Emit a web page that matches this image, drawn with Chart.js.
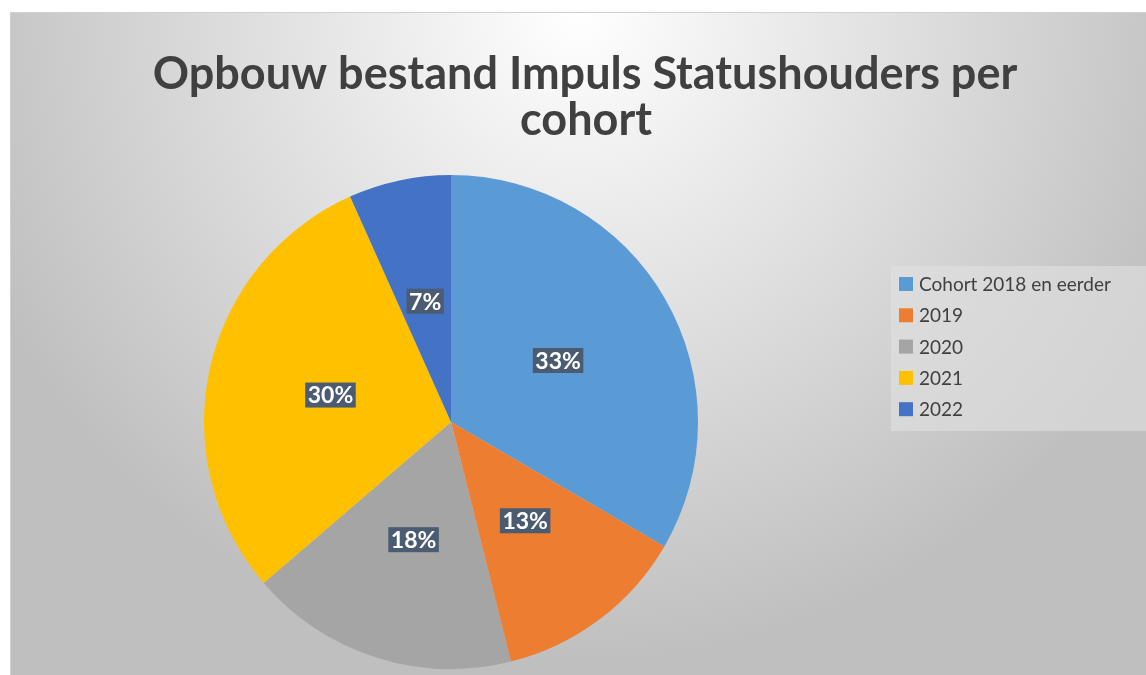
<!DOCTYPE html>
<html>
<head>
<meta charset="utf-8">
<script src="https://cdn.jsdelivr.net/npm/chart.js@4"></script>
<style>
  html, body { margin: 0; padding: 0; background: #fff; }
  #wrap {
    position: absolute; left: 10px; top: 12px;
    width: 1135px; height: 663px;
    border-left: 1px solid #d0d0d0; border-top: 1px solid #d0d0d0;
    background: radial-gradient(circle 650px at 50% 0, #ffffff 0%, #bfbfbf 100%);
  }
  canvas { display: block; }
</style>
</head>
<body>
<div id="wrap"><canvas id="pie" width="1135" height="663"></canvas></div>
<script>
const titleLines = ['Opbouw bestand Impuls Statushouders per', 'cohort'];
const cohorts = ['Cohort 2018 en eerder', '2019', '2020', '2021', '2022'];
const shares = [33.4, 12.7, 17.6, 29.6, 6.7]; // aandeel in %
const colors = ['#5B9BD5', '#ED7D31', '#A5A5A5', '#FFC000', '#4472C4'];

// titel, legenda en labels zelf tekenen
const extras = {
    id: 'extras',
    afterDraw(chart) {
        const ctx = chart.ctx;
        ctx.save();

        // titel
        ctx.fillStyle = '#404040';
        ctx.font = 'bold 45px Lato';
        ctx.textAlign = 'center';
        ctx.textBaseline = 'middle';
        ctx.fillText(titleLines[0], 574, 61);
        ctx.fillText(titleLines[1], 575, 107);

        // percentages
        const meta = chart.getDatasetMeta(0);
        ctx.font = 'bold 23px Lato';
        meta.data.forEach((arc, i) => {
            const p = arc.getCenterPoint();
            const txt = Math.round(shares[i]) + '%';
            const w = ctx.measureText(txt).width + 5;
            ctx.fillStyle = '#4a5b72';
            ctx.fillRect(p.x - w / 2, p.y - 12.5, w, 25);
            ctx.fillStyle = '#ffffff';
            ctx.fillText(txt, p.x, p.y + 1);
        });

        // legenda
        ctx.fillStyle = 'rgba(225,225,225,0.6)';
        ctx.fillRect(880, 253, 255, 165);
        ctx.font = '19px Lato';
        ctx.textAlign = 'left';
        chart.data.labels.forEach((lab, i) => {
            const y = 271 + i * 31.3;
            ctx.fillStyle = colors[i];
            ctx.fillRect(888, y - 7, 14, 14);
            ctx.fillStyle = '#404040';
            ctx.fillText(lab, 908, y + 1);
        });

        ctx.restore();
    }
};

new Chart(document.getElementById('pie'), {
    type: 'pie',
    data: {
        labels: cohorts,
        datasets: [{
            data: shares,
            backgroundColor: colors,
            borderWidth: 0
        }]
    },
    options: {
        responsive: false,
        animation: false,
        layout: {
            padding: { top: 162, bottom: 7, left: 193, right: 448 }
        },
        plugins: {
            legend: { display: false },
            title: { display: false },
            tooltip: { enabled: false }
        }
    },
    plugins: [extras]
});
</script>
</body>
</html>
